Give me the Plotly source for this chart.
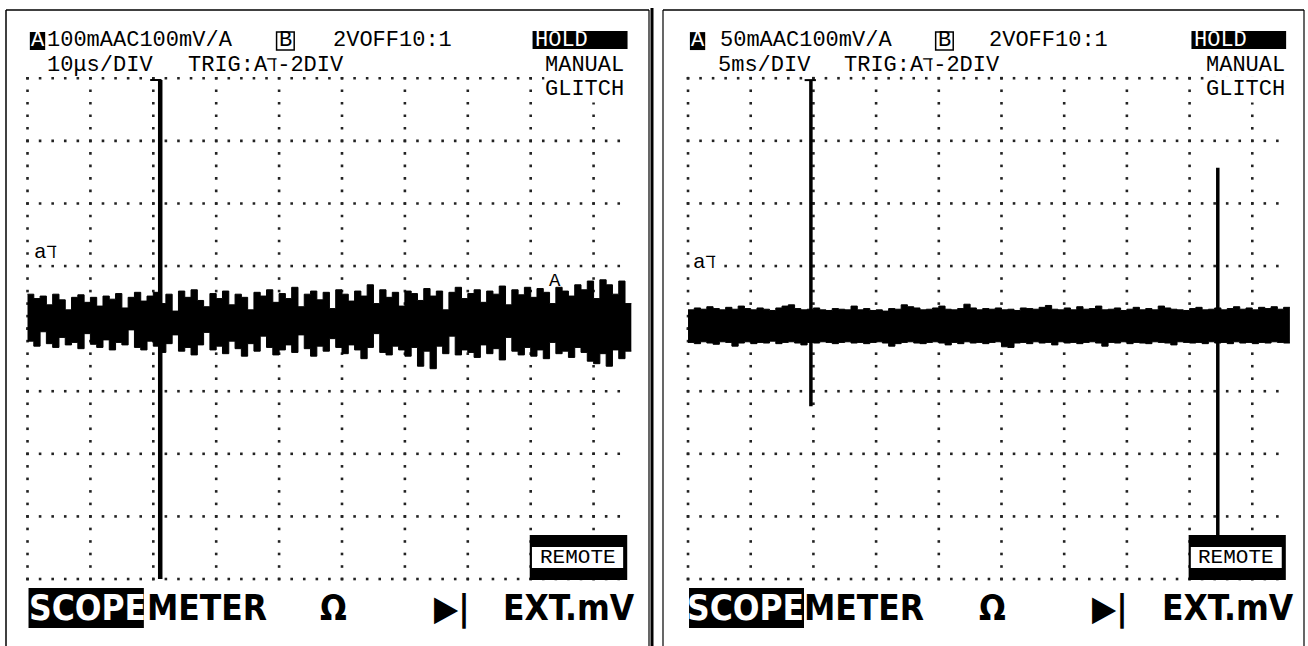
import numpy as np
import plotly.graph_objects as go

# ---------------- data (all in scope graticule divisions) ----------------
SAMPLE_DT = 0.1  # width of one displayed sample column, in divisions

# left screen: 100 mA/div, 10 us/div  -> per-column max / min of trace A
left_hi = [4.55, 4.48, 4.52, 4.38, 4.55, 4.46, 4.30, 4.50, 4.54, 4.42,
           4.50, 4.36, 4.52, 4.47, 4.56, 4.33, 4.50, 4.58, 4.44, 4.52,
           4.58, 4.40, 4.55, 4.28, 4.60, 4.50, 4.62, 4.45, 4.35, 4.56,
           4.48, 4.60, 4.38, 4.55, 4.50, 4.30, 4.58, 4.52, 4.62, 4.42,
           4.56, 4.48, 4.66, 4.35, 4.55, 4.60, 4.46, 4.58, 4.32, 4.62,
           4.55, 4.44, 4.60, 4.52, 4.70, 4.40, 4.62, 4.50, 4.58, 4.36,
           4.60, 4.56, 4.45, 4.64, 4.52, 4.60, 4.30, 4.58, 4.66, 4.48,
           4.56, 4.62, 4.42, 4.60, 4.55, 4.68, 4.38, 4.62, 4.54, 4.66,
           4.50, 4.64, 4.58, 4.40, 4.66, 4.60, 4.52, 4.70, 4.62, 4.76,
           4.48, 4.78, 4.70, 4.55, 4.76, 4.40]
left_lo = [3.80, 3.72, 3.95, 3.76, 3.70, 3.86, 3.74, 3.78, 3.68, 3.92,
           3.75, 3.70, 3.82, 3.66, 3.78, 3.74, 3.98, 3.70, 3.66, 3.80,
           3.72, 3.62, 3.76, 3.90, 3.64, 3.70, 3.58, 3.74, 3.94, 3.66,
           3.72, 3.60, 3.80, 3.68, 3.56, 3.76, 3.64, 3.88, 3.70, 3.58,
           3.66, 3.74, 3.62, 3.90, 3.68, 3.56, 3.72, 3.64, 3.84, 3.70,
           3.60, 3.74, 3.66, 3.52, 3.70, 3.92, 3.62, 3.58, 3.72, 3.66,
           3.56, 3.70, 3.40, 3.64, 3.36, 3.72, 3.60, 3.88, 3.58, 3.66,
           3.62, 3.54, 3.74, 3.60, 3.68, 3.50, 3.86, 3.64, 3.58, 3.70,
           3.56, 3.66, 3.52, 3.78, 3.60, 3.64, 3.54, 3.70, 3.62, 3.48,
           3.44, 3.60, 3.40, 3.66, 3.52, 3.64]

# right screen: 50 mA/div, 5 ms/div
right_hi = [4.30, 4.33, 4.31, 4.35, 4.32, 4.30, 4.34, 4.31, 4.36, 4.32,
            4.30, 4.33, 4.31, 4.29, 4.33, 4.36, 4.38, 4.32, 4.30, 4.31,
            4.33, 4.30, 4.29, 4.32, 4.31, 4.30, 4.36, 4.30, 4.32, 4.29,
            4.30, 4.28, 4.32, 4.31, 4.38, 4.35, 4.33, 4.30, 4.31, 4.33,
            4.36, 4.31, 4.30, 4.32, 4.39, 4.33, 4.30, 4.32, 4.31, 4.33,
            4.30, 4.31, 4.29, 4.33, 4.32, 4.31, 4.34, 4.37, 4.31, 4.30,
            4.33, 4.30, 4.35, 4.31, 4.32, 4.36, 4.30, 4.31, 4.33, 4.29,
            4.31, 4.34, 4.30, 4.32, 4.30, 4.36, 4.33, 4.31, 4.30, 4.29,
            4.32, 4.34, 4.30, 4.31, 4.33, 4.30, 4.32, 4.35, 4.31, 4.33,
            4.30, 4.34, 4.32, 4.35, 4.31, 4.34]
right_lo = [3.78, 3.76, 3.79, 3.77, 3.75, 3.79, 3.78, 3.72, 3.77, 3.79,
            3.76, 3.78, 3.77, 3.80, 3.76, 3.78, 3.79, 3.77, 3.74, 3.78,
            3.77, 3.79, 3.78, 3.76, 3.78, 3.79, 3.77, 3.78, 3.76, 3.78,
            3.79, 3.77, 3.72, 3.76, 3.78, 3.79, 3.77, 3.76, 3.78, 3.79,
            3.77, 3.74, 3.78, 3.76, 3.79, 3.77, 3.78, 3.76, 3.78, 3.79,
            3.71, 3.70, 3.77, 3.78, 3.76, 3.79, 3.77, 3.78, 3.74, 3.79,
            3.77, 3.78, 3.76, 3.78, 3.79, 3.77, 3.72, 3.78, 3.77, 3.79,
            3.76, 3.78, 3.77, 3.76, 3.79, 3.78, 3.77, 3.74, 3.79, 3.78,
            3.77, 3.78, 3.76, 3.79, 3.77, 3.78, 3.76, 3.79, 3.77, 3.78,
            3.76, 3.78, 3.77, 3.79, 3.78, 3.77]

# glitch spikes (x position, top, bottom), divisions
left_spike_x = [2.11]
left_spike_top = [7.97]
left_spike_bottom = [0.0]
right_spike_x = [1.96, 8.45]
right_spike_top = [7.97, 6.57]
right_spike_bottom = [2.76, 0.70]

# trigger position marker "T" on the top graticule line
trigger_x = [2.04, 1.95]

# graticule
grid_cols = list(range(10))   # vertical dotted lines
grid_rows = list(range(9))    # horizontal dotted lines

# texts
range_text = ["100mAAC100mV/A", "50mAAC100mV/A"]
chb_text = "2VOFF10:1"
timebase_text = ["10\u03bcs/DIV", "5ms/DIV"]
trig_text = "TRIG:A\u2138-2DIV"
trig_label = "a\u2138"
bottom_labels = ["SCOPE", "METER", "\u03a9", "\u25b6|", "EXT.mV"]

# ---------------- layout geometry ----------------
MONO = "Liberation Mono, DejaVu Sans Mono, monospace"
BOLD = "DejaVu Sans Condensed, DejaVu Sans, sans-serif"
W, H = 1308, 646
HF = 22  # header font size

panels = [
    dict(xa="x", ya="y", dom=[6 / W, 649.5 / W], xr=[-0.342, 9.889],
         hi=left_hi, lo=left_lo, sx=left_spike_x, st=left_spike_top, sb=left_spike_bottom,
         a_c=0.159, rng_x=0.294, b_c=4.10, chb_x=4.841, tb_x=0.294, trig_x=2.536,
         right_x=9.507, al=(0.087, 5.21), bx=[0.946, 2.854, 4.857, 6.749, 8.609], marker=True),
    dict(xa="x2", ya="y2", dom=[663 / W, 1304 / W], xr=[-0.399, 9.825],
         hi=right_hi, lo=right_lo, sx=right_spike_x, st=right_spike_top, sb=right_spike_bottom,
         a_c=0.152, rng_x=0.494, b_c=4.09, chb_x=4.785, tb_x=0.463, trig_x=2.472,
         right_x=9.537, al=(0.064, 5.05), bx=[0.917, 2.807, 4.849, 6.730, 8.612], marker=False),
]
YR = [-1.070, 9.090]
YDOM = [0, (H - 10) / H]

fig = go.Figure()
shapes = []
annotations = []

for i, p in enumerate(panels):
    xa, ya = p["xa"], p["ya"]
    # graticule dots
    gx, gy = [], []
    for r in grid_rows:
        for k in range(48):
            gx.append(k * 0.2)
            gy.append(r)
    for c in grid_cols:
        for k in range(41):
            gx.append(c)
            gy.append(k * 0.2)
    fig.add_trace(go.Scatter(x=gx, y=gy, mode="markers", xaxis=xa, yaxis=ya,
                             marker=dict(symbol="square", size=2.6, color="#222"),
                             hoverinfo="skip"))
    # waveform band
    n = len(p["hi"])
    xs = list(np.arange(n + 1) * SAMPLE_DT)
    lo = list(p["lo"]) + [p["lo"][-1]]
    hi = list(p["hi"]) + [p["hi"][-1]]
    fig.add_trace(go.Scatter(x=xs, y=lo, mode="lines", line=dict(shape="hv", color="black", width=1),
                             xaxis=xa, yaxis=ya, hoverinfo="skip"))
    fig.add_trace(go.Scatter(x=xs, y=hi, mode="lines", line=dict(shape="hv", color="black", width=1),
                             fill="tonexty", fillcolor="black", xaxis=xa, yaxis=ya, hoverinfo="skip"))
    # spikes
    for sx, st, sb in zip(p["sx"], p["st"], p["sb"]):
        fig.add_trace(go.Scatter(x=[sx, sx], y=[st, sb], mode="lines",
                                 line=dict(color="black", width=4.5 if i == 0 else 3.5),
                                 xaxis=xa, yaxis=ya, hoverinfo="skip"))
    # trigger position marker
    tx = trigger_x[i]
    fig.add_trace(go.Scatter(x=[tx - 0.09, tx + 0.09], y=[7.97, 7.97], mode="lines",
                             line=dict(color="black", width=2), xaxis=xa, yaxis=ya, hoverinfo="skip"))

    def rect(x0, x1, y0, y1, fill=None, lw=0):
        shapes.append(dict(type="rect", xref=xa, yref=ya, x0=x0, x1=x1, y0=y0, y1=y1,
                           fillcolor=fill if fill else "rgba(0,0,0,0)",
                           line=dict(color="black", width=lw), layer="above"))

    def text(x, y, t, size, family=MONO, color="black", xanchor="left", bg=None, weight="normal"):
        d = dict(xref=xa, yref=ya, x=x, y=y, text=t, showarrow=False, xanchor=xanchor,
                 yanchor="middle", borderpad=0,
                 font=dict(family=family, size=size, color=color, weight=weight))
        if bg:
            d["bgcolor"] = bg
        annotations.append(d)

    rect(p["a_c"] - 0.122, p["a_c"] + 0.122, 8.45, 8.737, fill="black")     # A channel box
    rect(p["b_c"] - 0.14, p["b_c"] + 0.14, 8.45, 8.737, lw=1.5)             # B channel box
    rect(8.03, 9.54, 8.466, 8.754, fill="black")                             # HOLD
    rect(7.985, 9.535, -0.016, 0.703, fill="black")                          # REMOTE outer
    rect(8.02, 9.47, 0.176, 0.511, fill="white")                             # REMOTE inner
    rect(0.016, 1.85, -0.783, -0.144, fill="black")                          # SCOPE

    y1, y2 = 8.602, 8.203
    text(p["a_c"], y1, "A", HF, color="white", xanchor="center")
    text(p["rng_x"], y1, range_text[i], HF)
    text(p["b_c"], y1, "B", HF, xanchor="center")
    text(p["chb_x"], y1, chb_text, HF)
    text(p["tb_x"], y2, timebase_text[i], HF)
    text(p["trig_x"], y2, trig_text, HF)
    text(8.06, 8.61, "HOLD", HF, color="white")
    text(p["right_x"], 8.211, "MANUAL", HF, xanchor="right")
    text(p["right_x"], 7.82, "GLITCH", HF, xanchor="right", bg="white")
    text(p["al"][0], p["al"][1], trig_label, 21, bg="white")
    if p["marker"]:
        text(8.386, 4.76, "A", 19, xanchor="center")
    text(8.745, 0.343, "REMOTE", 21, xanchor="center")
    for lbl, bxp in zip(bottom_labels, p["bx"]):
        text(bxp, -0.463, lbl, 35, family=BOLD, xanchor="center",
             color="white" if lbl == "SCOPE" else "black", weight="bold")

# frames / borders in paper coords
def pline(x0, y0, x1, y1, w=1.5):
    shapes.append(dict(type="line", xref="paper", yref="paper",
                       x0=x0 / W, x1=x1 / W, y0=1 - y0 / H, y1=1 - y1 / H,
                       line=dict(color="black", width=w), layer="above"))

pline(6, 10, 6, H)
pline(6, 10, 649, 10)
pline(649, 10, 649, H, 1.2)
pline(652, 8, 652, H, 3)
pline(663, 10, 663, H, 1.2)
pline(663, 10, 1304, 10)
pline(1304, 10, 1304, H, 1.2)

ax_common = dict(visible=False, fixedrange=True)
fig.update_layout(
    width=W, height=H, margin=dict(l=0, r=0, t=0, b=0),
    paper_bgcolor="white", plot_bgcolor="white", showlegend=False,
    xaxis=dict(domain=panels[0]["dom"], range=panels[0]["xr"], anchor="y", **ax_common),
    yaxis=dict(domain=YDOM, range=YR, anchor="x", **ax_common),
    xaxis2=dict(domain=panels[1]["dom"], range=panels[1]["xr"], anchor="y2", **ax_common),
    yaxis2=dict(domain=YDOM, range=YR, anchor="x2", **ax_common),
    shapes=shapes, annotations=annotations,
)

fig.write_html("out.html", config={"displayModeBar": False},
               post_script="document.body.style.margin='0';document.body.style.overflow='hidden';")
